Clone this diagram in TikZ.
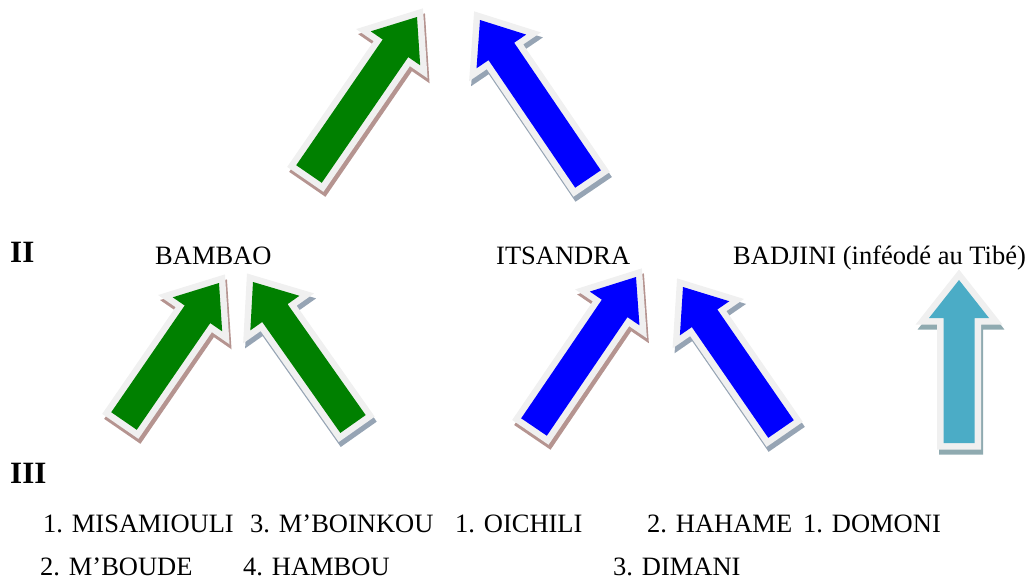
\documentclass[tikz,border=0pt]{standalone}
\usepackage{fontspec}
\setmainfont{Liberation Serif}
\usetikzlibrary{calc}
\definecolor{vert}{HTML}{008000}
\definecolor{bleu}{HTML}{0000FF}
\definecolor{turquoise}{HTML}{4BACC6}
\definecolor{bordure}{HTML}{F0F0F0}
\definecolor{ombrebrune}{HTML}{B59490}
\definecolor{ombrebleue}{HTML}{96A4B4}
\definecolor{ombreturquoise}{HTML}{8FAAB0}
\begin{document}
\begin{tikzpicture}[x=1pt,y=-1pt]
	% Styles (MODIFIABLES)
	\tikzstyle{niveau}=[anchor=base west,inner sep=0pt,font=\fontsize{31}{35}\selectfont\bfseries]
	\tikzstyle{region}=[anchor=base west,inner sep=0pt,font=\fontsize{26.5}{30}\selectfont]
	\tikzstyle{village}=[region]
	\tikzstyle{contour}=[draw=bordure,line width=13pt,line join=miter]
	\tikzstyle{ombre}=[line width=13pt,line join=miter]
	% Dimensions (MODIFIABLES)
	\def\DemiCorps{15.5pt}
	\def\DemiTete{30pt}
	\def\LongueurTete{38pt}
	% Fleche pleine : #1 queue, #2 pointe, #3 couleur, #4 ombre
	\def\FlecheBloc#1#2#3#4{%
		\coordinate (b) at ($(#2)!\LongueurTete!(#1)$);
		\coordinate (c1) at ($(#1)!\DemiCorps!90:(#2)$);
		\coordinate (c2) at ($(b)!\DemiCorps!90:(#2)$);
		\coordinate (c3) at ($(b)!\DemiTete!90:(#2)$);
		\coordinate (c4) at ($(b)!\DemiTete!-90:(#2)$);
		\coordinate (c5) at ($(b)!\DemiCorps!-90:(#2)$);
		\coordinate (c6) at ($(#1)!\DemiCorps!-90:(#2)$);
		\filldraw[ombre,#4] ([shift={(2,5)}]c1) -- ([shift={(2,5)}]c2) -- ([shift={(2,5)}]c3) -- ([shift={(2,5)}]#2)
			-- ([shift={(2,5)}]c4) -- ([shift={(2,5)}]c5) -- ([shift={(2,5)}]c6) -- cycle;
		\draw[contour] (c1) -- (c2) -- (c3) -- (#2) -- (c4) -- (c5) -- (c6) -- cycle;
		\fill[#3] (c1) -- (c2) -- (c3) -- (#2) -- (c4) -- (c5) -- (c6) -- cycle;
	}
	\useasboundingbox (0,0) rectangle (1032,581);
	% Queues et pointes (MODIFIABLES)
	\coordinate (qI1) at (309,174);  \coordinate (pI1) at (417,17);
	\coordinate (qI2) at (588,179);  \coordinate (pI2) at (480,20);
	\coordinate (qBa) at (124,421);  \coordinate (pBa) at (219,283);
	\coordinate (qBb) at (353,424);  \coordinate (pBb) at (253,282);
	\coordinate (qIa) at (534,427);  \coordinate (pIa) at (636,277);
	\coordinate (qIb) at (781,429);  \coordinate (pIb) at (683,287);
	\coordinate (qTi) at (959,443);  \coordinate (pTi) at (959,280);
	% Fleches
	\FlecheBloc{qI1}{pI1}{vert}{ombrebrune}
	\FlecheBloc{qI2}{pI2}{bleu}{ombrebleue}
	\FlecheBloc{qBa}{pBa}{vert}{ombrebrune}
	\FlecheBloc{qBb}{pBb}{vert}{ombrebleue}
	\FlecheBloc{qIa}{pIa}{bleu}{ombrebrune}
	\FlecheBloc{qIb}{pIb}{bleu}{ombrebleue}
	\FlecheBloc{qTi}{pTi}{turquoise}{ombreturquoise}
	% Niveau II
	\node[niveau] (II) at (10,262) {II};
	\node[region] (bambao) at (155,264) {BAMBAO};
	\node[region] (itsandra) at (496,264) {ITSANDRA};
	\node[region] (badjini) at (733,264) {BADJINI (inféodé au Tibé)};
	% Niveau III
	\node[niveau] (III) at (10,483) {III};
	\node[village] (misamiouli) at (43,532) {1. MISAMIOULI};
	\node[village] (mboinkou) at (250,532) {3. M’BOINKOU};
	\node[village] (oichili) at (455,532) {1. OICHILI};
	\node[village] (hahame) at (647,532) {2. HAHAME};
	\node[village] (domoni) at (803,532) {1. DOMONI};
	\node[village] (mboude) at (40,575) {2. M’BOUDE};
	\node[village] (hambou) at (243,575) {4. HAMBOU};
	\node[village] (dimani) at (613,575) {3. DIMANI};
\end{tikzpicture}
\end{document}
